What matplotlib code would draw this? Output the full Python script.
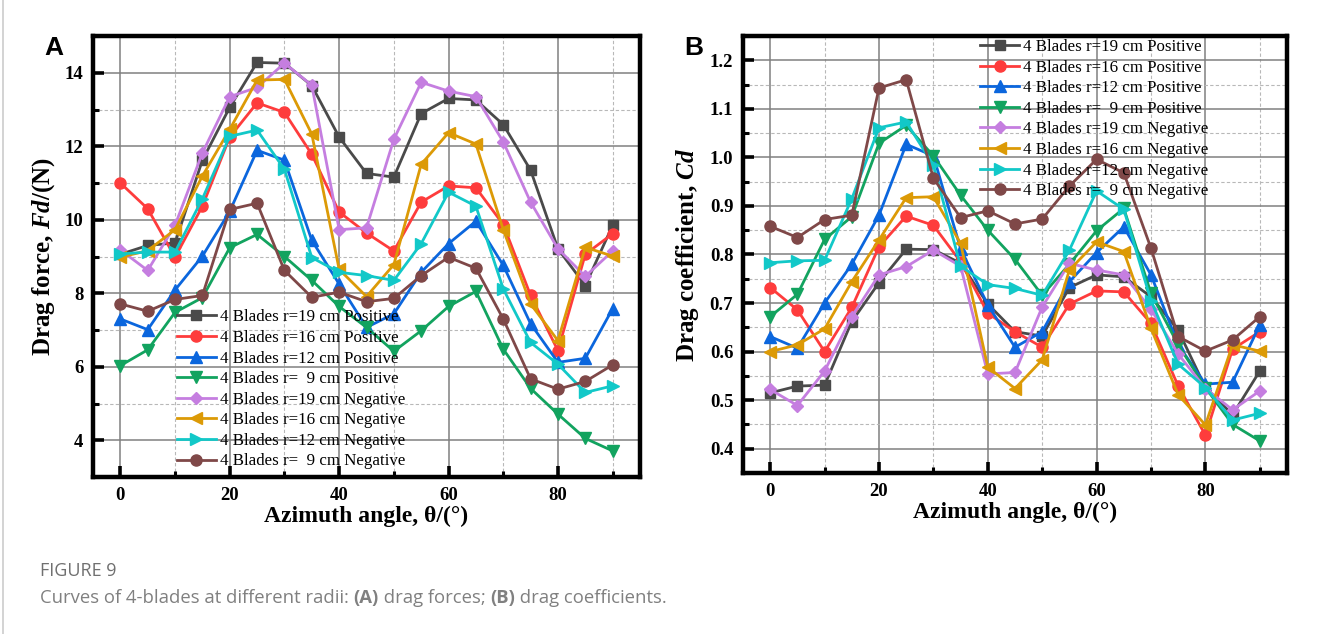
import matplotlib
matplotlib.use('Agg')
import matplotlib.pyplot as plt
from matplotlib.ticker import MultipleLocator, FormatStrFormatter
from matplotlib.lines import Line2D

plt.rcParams['mathtext.fontset'] = 'custom'
plt.rcParams['mathtext.rm'] = 'Liberation Serif:bold'
plt.rcParams['mathtext.it'] = 'Liberation Serif:italic:bold'

angles = [0, 5, 10, 15, 20, 25, 30, 35, 40, 45, 50, 55, 60, 65, 70, 75, 80, 85, 90]

series_labels = ["4 Blades r=19 cm Positive", "4 Blades r=16 cm Positive",
                 "4 Blades r=12 cm Positive", "4 Blades r=  9 cm Positive",
                 "4 Blades r=19 cm Negative", "4 Blades r=16 cm Negative",
                 "4 Blades r=12 cm Negative", "4 Blades r=  9 cm Negative"]

# Panel A: drag force (N)
fd_r19_pos = [9.06, 9.30, 9.37, 11.62, 13.06, 14.28, 14.26, 13.65, 12.25, 11.26, 11.16, 12.89, 13.30, 13.26, 12.59, 11.35, 9.21, 8.21, 9.85]
fd_r16_pos = [11.0, 10.30, 8.98, 10.37, 12.25, 13.18, 12.92, 11.78, 10.21, 9.64, 9.15, 10.48, 10.92, 10.87, 9.87, 7.94, 6.44, 9.06, 9.62]
fd_r12_pos = [7.30, 7.01, 8.09, 9.01, 10.23, 11.89, 11.62, 9.44, 8.25, 7.07, 7.44, 8.57, 9.35, 9.96, 8.76, 7.17, 6.12, 6.23, 7.58]
fd_r9_pos = [6.03, 6.46, 7.48, 7.88, 9.24, 9.60, 9.00, 8.35, 7.64, 7.07, 6.42, 6.98, 7.64, 8.05, 6.48, 5.41, 4.71, 4.05, 3.71]
fd_r19_neg = [9.18, 8.62, 9.85, 11.82, 13.35, 13.60, 14.26, 13.66, 9.73, 9.78, 12.19, 13.74, 13.50, 13.35, 12.12, 10.48, 9.21, 8.46, 9.15]
fd_r16_neg = [8.98, 9.16, 9.73, 11.19, 12.46, 13.80, 13.82, 12.33, 8.65, 7.91, 8.78, 11.51, 12.37, 12.06, 9.73, 7.71, 6.71, 9.25, 9.01]
fd_r12_neg = [9.07, 9.12, 9.12, 10.57, 12.27, 12.44, 11.37, 8.97, 8.57, 8.48, 8.35, 9.35, 10.75, 10.37, 8.12, 6.66, 6.07, 5.30, 5.48]
fd_r9_neg = [7.71, 7.51, 7.83, 7.94, 10.28, 10.45, 8.62, 7.89, 8.03, 7.77, 7.86, 8.48, 8.98, 8.68, 7.30, 5.67, 5.39, 5.60, 6.05]

# Panel B: drag coefficient
cd_r19_pos = [0.515, 0.529, 0.531, 0.662, 0.742, 0.811, 0.810, 0.782, 0.698, 0.641, 0.632, 0.732, 0.758, 0.754, 0.713, 0.644, 0.526, 0.470, 0.560]
cd_r16_pos = [0.732, 0.686, 0.600, 0.691, 0.816, 0.879, 0.860, 0.785, 0.679, 0.641, 0.609, 0.698, 0.725, 0.723, 0.658, 0.529, 0.428, 0.605, 0.641]
cd_r12_pos = [0.631, 0.607, 0.700, 0.780, 0.881, 1.027, 1.003, 0.812, 0.696, 0.609, 0.641, 0.744, 0.804, 0.857, 0.758, 0.614, 0.533, 0.537, 0.655]
cd_r9_pos = [0.672, 0.718, 0.831, 0.878, 1.029, 1.066, 1.003, 0.922, 0.850, 0.790, 0.716, 0.780, 0.849, 0.895, 0.720, 0.614, 0.526, 0.450, 0.416]
cd_r19_neg = [0.522, 0.489, 0.560, 0.672, 0.758, 0.775, 0.809, 0.776, 0.554, 0.557, 0.692, 0.782, 0.768, 0.758, 0.687, 0.595, 0.524, 0.480, 0.519]
cd_r16_neg = [0.600, 0.614, 0.647, 0.744, 0.830, 0.917, 0.919, 0.823, 0.568, 0.524, 0.583, 0.768, 0.826, 0.806, 0.648, 0.511, 0.449, 0.614, 0.601]
cd_r12_neg = [0.783, 0.787, 0.788, 0.915, 1.061, 1.073, 0.984, 0.776, 0.738, 0.730, 0.716, 0.809, 0.931, 0.893, 0.705, 0.574, 0.526, 0.459, 0.473]
cd_r9_neg = [0.858, 0.835, 0.872, 0.881, 1.143, 1.160, 0.957, 0.876, 0.890, 0.863, 0.873, 0.941, 0.996, 0.968, 0.813, 0.631, 0.601, 0.624, 0.672]

fd_series = [fd_r19_pos, fd_r16_pos, fd_r12_pos, fd_r9_pos, fd_r19_neg, fd_r16_neg, fd_r12_neg, fd_r9_neg]
cd_series = [cd_r19_pos, cd_r16_pos, cd_r12_pos, cd_r9_pos, cd_r19_neg, cd_r16_neg, cd_r12_neg, cd_r9_neg]

colors = ["#4a4a4a", "#fe3c3c", "#0b66dd", "#12a35f", "#c57ee0", "#dc9a06", "#12c8c8", "#7f4848"]
markers = ["s", "o", "^", "v", "D", "<", ">", "o"]
msizes = [7.5, 8, 8.5, 8.5, 6.5, 8.5, 8.5, 8]

W, H = 1327, 634
fig = plt.figure(figsize=(W / 100, H / 100), dpi=100)

serif = 'Liberation Serif'
LEG_SIZE = 12.2
TICK_SIZE = 13.5
XLAB_SIZE = 17
YLAB_SIZE = 18


def px_axes(l, t, r, b):
    return fig.add_axes([l / W, 1 - b / H, (r - l) / W, (b - t) / H])


def style_axes(ax, ylim, ymaj, ymin):
    ax.set_xlim(-5, 95)
    ax.set_ylim(*ylim)
    ax.xaxis.set_major_locator(MultipleLocator(20))
    ax.xaxis.set_minor_locator(MultipleLocator(10))
    ax.yaxis.set_major_locator(MultipleLocator(ymaj))
    ax.yaxis.set_minor_locator(MultipleLocator(ymin))
    ax.grid(True, which='major', color='#808080', lw=1.1, ls='-', zorder=0)
    ax.grid(True, which='minor', color='#b8b8b8', lw=0.8, ls=(0, (3, 2)), zorder=0)
    ax.set_axisbelow(True)
    for s in ax.spines.values():
        s.set_linewidth(3.2)
        s.set_color('black')
    ax.tick_params(which='major', direction='in', length=8, width=2.6,
                   labelsize=TICK_SIZE, pad=7, top=False, right=False)
    ax.tick_params(which='minor', direction='in', length=4, width=2.2,
                   top=False, right=False)


def fix_ticklabels(ax):
    for lab in ax.get_xticklabels() + ax.get_yticklabels():
        lab.set_fontfamily(serif)
        lab.set_fontweight('bold')


def plot_series(ax, data):
    for vals, c, m, ms, lab in zip(data, colors, markers, msizes, series_labels):
        ax.plot(angles, vals, color=c, marker=m, markersize=ms, lw=2.0,
                label=lab, zorder=3, clip_on=False)


legend_kw = dict(loc='upper left', frameon=False,
                 prop={'family': serif, 'size': LEG_SIZE}, handlelength=2.3,
                 handletextpad=0.25, labelspacing=0.27, borderpad=0, borderaxespad=0)

# Panel A
axA = px_axes(93, 36, 640, 477)
plot_series(axA, fd_series)
style_axes(axA, (3, 15), 2, 1)
fix_ticklabels(axA)
axA.set_xlabel('Azimuth angle, θ/(°)', fontfamily=serif, fontweight='bold', fontsize=XLAB_SIZE)
axA.set_ylabel(r'Drag force, $\mathit{Fd}$/(N)', fontfamily=serif, fontweight='bold', fontsize=YLAB_SIZE)
axA.xaxis.set_label_coords(0.5, -0.065)
axA.yaxis.set_label_coords(-0.066, 0.5)
axA.legend(bbox_to_anchor=(0.153, 0.38), **legend_kw)

# Panel B
axB = px_axes(743, 36, 1287, 473)
plot_series(axB, cd_series)
style_axes(axB, (0.35, 1.25), 0.1, 0.05)
axB.yaxis.set_major_formatter(FormatStrFormatter('%.1f'))
fix_ticklabels(axB)
axB.set_xlabel('Azimuth angle, θ/(°)', fontfamily=serif, fontweight='bold', fontsize=XLAB_SIZE)
axB.set_ylabel(r'Drag coefficient, $\mathit{Cd}$', fontfamily=serif, fontweight='bold', fontsize=YLAB_SIZE)
axB.xaxis.set_label_coords(0.5, -0.065)
axB.yaxis.set_label_coords(-0.078, 0.5)
axB.legend(bbox_to_anchor=(0.436, 0.993), **legend_kw)

# Panel letters
fig.text(44 / W, 1 - 48 / H, 'A', fontfamily='Liberation Sans', fontweight='bold',
         fontsize=19, va='center', ha='left')
fig.text(684 / W, 1 - 48 / H, 'B', fontfamily='Liberation Sans', fontweight='bold',
         fontsize=19, va='center', ha='left')

# Caption
fig.text(40 / W, 1 - 571 / H, 'FIGURE 9', fontfamily='Open Sans', fontsize=13,
         color='#707070', va='center', ha='left')
cap_parts = [('Curves of 4-blades at different radii: ', 'normal'), ('(A)', 'bold'),
             (' drag forces; ', 'normal'), ('(B)', 'bold'), (' drag coefficients.', 'normal')]
fig.canvas.draw()
renderer = fig.canvas.get_renderer()
xcur = 40
for txt, wt in cap_parts:
    t = fig.text(xcur / W, 1 - 598 / H, txt, fontfamily='Open Sans', fontsize=13.3,
                 fontweight=wt, color='#808080', va='center', ha='left')
    bb = t.get_window_extent(renderer=renderer)
    xcur += bb.width

# Left border line
fig.add_artist(Line2D([3 / W, 3 / W], [0, 1], color='#cccccc', lw=1.2,
                      transform=fig.transFigure))

fig.savefig('out.png', dpi=100)
